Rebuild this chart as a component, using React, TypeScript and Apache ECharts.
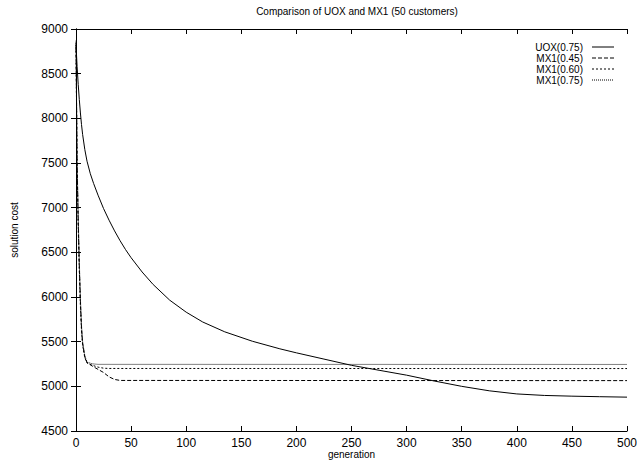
import React, { useEffect, useRef } from "react";
import * as echarts from "echarts";

const TITLE = "Comparison of UOX and MX1 (50 customers)";
const X_NAME = "generation";
const Y_NAME = "solution cost";

const uoxGen = [0, 1, 2, 3, 4, 5, 6, 8, 10, 13, 16, 20, 25, 30, 35, 40, 45, 50, 60, 70, 85, 100, 115, 135, 160, 185, 200, 225, 250, 275, 300, 325, 350, 375, 400, 425, 450, 475, 500];
const uoxCost = [8820, 8580, 8380, 8210, 8060, 7930, 7820, 7650, 7520, 7380, 7270, 7140, 6990, 6860, 6740, 6630, 6530, 6440, 6280, 6140, 5965, 5830, 5720, 5610, 5505, 5420, 5375, 5305, 5235, 5180, 5125, 5060, 5000, 4950, 4915, 4898, 4890, 4884, 4879];

const mx045Gen = [0, 1, 2, 3, 4, 5, 6, 8, 10, 15, 20, 25, 30, 35, 40, 500];
const mx045Cost = [8850, 7500, 6850, 6350, 5950, 5650, 5480, 5330, 5265, 5225, 5190, 5155, 5106, 5077, 5066, 5064];

const mx060Gen = [0, 1, 2, 3, 4, 5, 6, 8, 10, 15, 20, 25, 30, 500];
const mx060Cost = [8800, 7450, 6800, 6300, 5900, 5620, 5460, 5320, 5262, 5235, 5215, 5203, 5200, 5199];

const mx075Gen = [0, 1, 2, 3, 4, 5, 6, 8, 10, 15, 20, 500];
const mx075Cost = [8870, 7550, 6900, 6400, 5980, 5680, 5500, 5340, 5270, 5252, 5246, 5245];

const seriesNames = ["UOX(0.75)", "MX1(0.45)", "MX1(0.60)", "MX1(0.75)"];
const seriesDash: (string | number[])[] = ["solid", [4, 2], [2, 2], [1, 1]];

const xMin = 0, xMax = 500, xStep = 50;
const yMin = 4500, yMax = 9000, yStep = 500;

const pairs = (g: number[], c: number[]) => g.map((v, i) => [v, c[i]]);

export default function App() {
  const ref = useRef<HTMLDivElement>(null);
  useEffect(() => {
    if (!ref.current) return;
    const chart = echarts.init(ref.current, undefined, { renderer: "svg" });
    const font = "'Liberation Sans', Arial, Helvetica, sans-serif";
    const axisCommon = {
      axisLine: { show: true, lineStyle: { color: "#000", width: 1 } },
      axisTick: { show: true, inside: true, length: 5, lineStyle: { color: "#000", width: 1 } },
      splitLine: { show: false },
    };
    const datasets = [
      pairs(uoxGen, uoxCost),
      pairs(mx045Gen, mx045Cost),
      pairs(mx060Gen, mx060Cost),
      pairs(mx075Gen, mx075Cost),
    ];
    const legendX = 583;
    const legendY0 = 47;
    const legendDy = 11;
    const legendGraphics: any[] = [];
    seriesNames.forEach((n, i) => {
      legendGraphics.push({
        type: "text",
        x: legendX,
        y: legendY0 + i * legendDy,
        style: { text: n, fill: "#000", font: `10px ${font}`, textAlign: "right", textVerticalAlign: "middle" },
      });
      legendGraphics.push({
        type: "line",
        shape: { x1: 592, y1: legendY0 + i * legendDy, x2: 614, y2: legendY0 + i * legendDy },
        style: { stroke: "#000", lineWidth: 1, lineDash: seriesDash[i] === "solid" ? null : seriesDash[i] },
      });
    });
    chart.setOption({
      animation: false,
      backgroundColor: "#fff",
      textStyle: { fontFamily: font },
      title: {
        text: TITLE,
        left: 352,
        textAlign: "center",
        top: 1,
        textStyle: { fontSize: 10, fontWeight: "normal", color: "#000", fontFamily: font },
      },
      grid: { left: 76, right: 10, top: 29, bottom: 30, containLabel: false, outerBoundsMode: "none" },
      xAxis: [
        {
          type: "value",
          min: xMin,
          max: xMax,
          interval: xStep,
          position: "bottom",
          name: X_NAME,
          nameLocation: "middle",
          nameGap: 18,
          nameMoveOverlap: false,
          nameTextStyle: { fontSize: 10, lineHeight: 11, color: "#000", fontFamily: font },
          axisLabel: { fontSize: 12, lineHeight: 12, color: "#000", margin: 6, fontFamily: font, formatter: (v: number) => String(v) },
          ...axisCommon,
        },
        {
          type: "value",
          min: xMin,
          max: xMax,
          interval: xStep,
          position: "top",
          axisLabel: { show: false },
          ...axisCommon,
        },
      ],
      yAxis: [
        {
          type: "value",
          min: yMin,
          max: yMax,
          interval: yStep,
          position: "left",
          name: Y_NAME,
          nameLocation: "middle",
          nameGap: 57,
          nameMoveOverlap: false,
          nameTextStyle: { fontSize: 10, color: "#000", fontFamily: font },
          axisLabel: { fontSize: 12, color: "#000", margin: 8, fontFamily: font, formatter: (v: number) => String(v) },
          ...axisCommon,
        },
        {
          type: "value",
          min: yMin,
          max: yMax,
          interval: yStep,
          position: "right",
          axisLabel: { show: false },
          ...axisCommon,
        },
      ],
      series: seriesNames.map((n, i) => ({
        name: n,
        type: "line",
        xAxisIndex: 0,
        yAxisIndex: 0,
        symbol: "none",
        smooth: false,
        data: datasets[i],
        lineStyle: { color: "#000", width: 1, type: seriesDash[i] },
        z: 3,
      })),
      graphic: legendGraphics,
    });
    return () => chart.dispose();
  }, []);
  return <div ref={ref} style={{ position: "fixed", left: 0, top: 0, width: 637, height: 461 }} />;
}
